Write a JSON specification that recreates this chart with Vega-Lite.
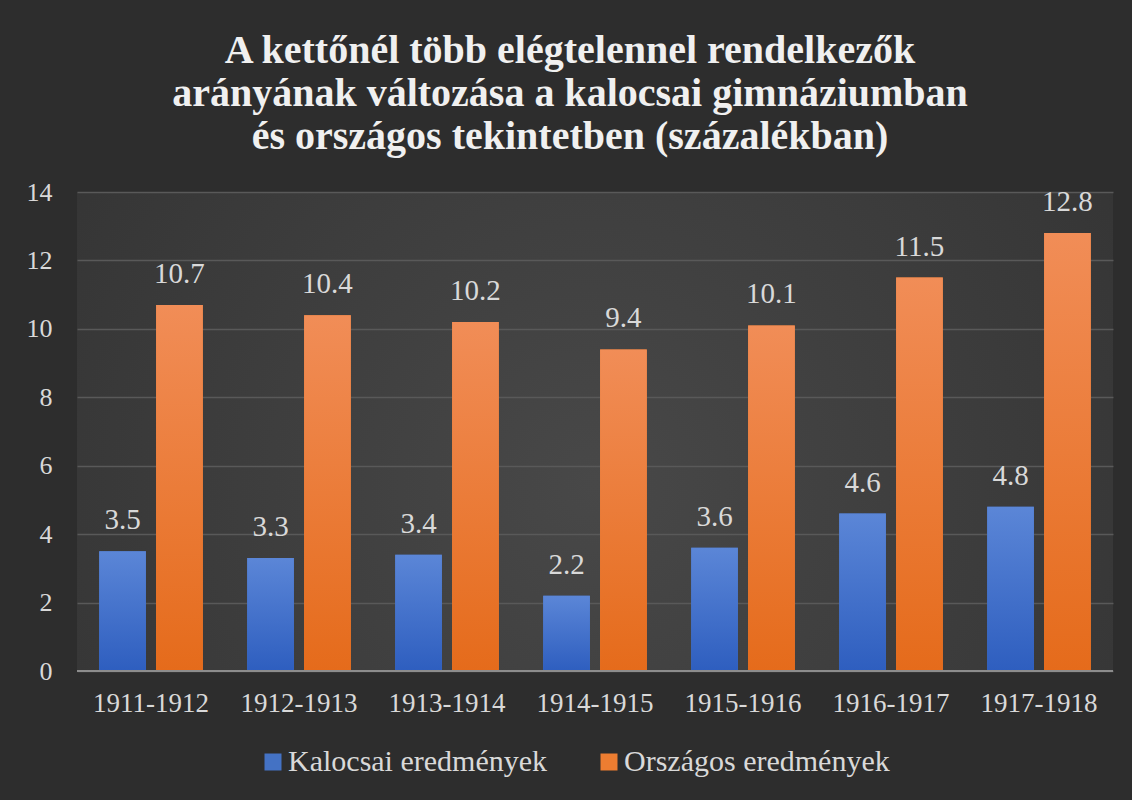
{
  "$schema": "https://vega.github.io/schema/vega-lite/v6.json",
  "width": 1036,
  "height": 479,
  "autosize": {"type": "none"},
  "padding": {"left": 77, "top": 192, "right": 19, "bottom": 129},
  "background": "#2d2d2d",
  "config": {
    "view": {
      "stroke": null,
      "fill": {
        "gradient": "radial",
        "x1": 0.5, "y1": 0.55, "r1": 0,
        "x2": 0.5, "y2": 0.55, "r2": 0.75,
        "stops": [
          {"offset": 0, "color": "#484848"},
          {"offset": 1, "color": "#303030"}
        ]
      }
    },
    "font": "Liberation Serif, Times New Roman, serif"
  },
  "title": {
    "text": [
      "A kettőnél több elégtelennel rendelkezők",
      "arányának változása a kalocsai gimnáziumban",
      "és országos tekintetben (százalékban)"
    ],
    "anchor": "middle",
    "frame": "bounds",
    "font": "Liberation Serif, Times New Roman, serif",
    "fontSize": 40,
    "fontWeight": "bold",
    "color": "#f0f0f0",
    "lineHeight": 43,
    "offset": 22
  },
  "data": {
    "values": [
      {"year": "1911-1912", "series": "Kalocsai eredmények", "value": 3.5},
      {"year": "1911-1912", "series": "Országos eredmények", "value": 10.7},
      {"year": "1912-1913", "series": "Kalocsai eredmények", "value": 3.3},
      {"year": "1912-1913", "series": "Országos eredmények", "value": 10.4},
      {"year": "1913-1914", "series": "Kalocsai eredmények", "value": 3.4},
      {"year": "1913-1914", "series": "Országos eredmények", "value": 10.2},
      {"year": "1914-1915", "series": "Kalocsai eredmények", "value": 2.2},
      {"year": "1914-1915", "series": "Országos eredmények", "value": 9.4},
      {"year": "1915-1916", "series": "Kalocsai eredmények", "value": 3.6},
      {"year": "1915-1916", "series": "Országos eredmények", "value": 10.1},
      {"year": "1916-1917", "series": "Kalocsai eredmények", "value": 4.6},
      {"year": "1916-1917", "series": "Országos eredmények", "value": 11.5},
      {"year": "1917-1918", "series": "Kalocsai eredmények", "value": 4.8},
      {"year": "1917-1918", "series": "Országos eredmények", "value": 12.8}
    ]
  },
  "encoding": {
    "x": {
      "field": "year",
      "type": "nominal",
      "sort": null,
      "scale": {"paddingInner": 0.3, "paddingOuter": 0.15},
      "axis": {
        "title": null,
        "labelAngle": 0,
        "labelFont": "Liberation Serif, Times New Roman, serif",
        "labelFontSize": 27,
        "labelColor": "#d9d9d9",
        "labelPadding": 19,
        "ticks": false,
        "domain": false,
        "grid": false
      }
    },
    "xOffset": {
      "field": "series",
      "type": "nominal",
      "scale": {"domain": ["Kalocsai eredmények", "Országos eredmények"], "paddingInner": 0.18}
    },
    "y": {
      "field": "value",
      "type": "quantitative",
      "scale": {"domain": [0, 14], "nice": false},
      "axis": {
        "title": null,
        "values": [0, 2, 4, 6, 8, 10, 12, 14],
        "labelFont": "Liberation Serif, Times New Roman, serif",
        "labelFontSize": 26,
        "labelColor": "#d9d9d9",
        "labelPadding": 25,
        "ticks": false,
        "domain": false,
        "gridColor": "#595959",
        "gridWidth": 1.5
      }
    }
  },
  "layer": [
    {
      "mark": {"type": "bar"},
      "encoding": {
        "color": {
          "field": "series",
          "type": "nominal",
          "scale": {
            "domain": ["Kalocsai eredmények", "Országos eredmények"],
            "range": ["#4472c4", "#ed7d31"]
          },
          "legend": {
            "title": null,
            "orient": "none",
            "direction": "horizontal",
            "legendX": 181,
            "legendY": 555,
            "padding": 0,
            "symbolType": "square",
            "symbolSize": 289,
            "symbolStrokeWidth": 0,
            "labelFontSize": 30,
            "labelColor": "#d9d9d9",
            "labelFont": "Liberation Serif, Times New Roman, serif",
            "labelOffset": 0,
            "columnPadding": 46,
            "labelLimit": 400
          }
        }
      }
    },
    {
      "transform": [{"filter": "datum.series === 'Kalocsai eredmények'"}],
      "mark": {
        "type": "bar",
        "fill": {
          "gradient": "linear", "x1": 0, "y1": 0, "x2": 0, "y2": 1,
          "stops": [
            {"offset": 0, "color": "#5b86d7"},
            {"offset": 1, "color": "#2e5ebf"}
          ]
        }
      }
    },
    {
      "transform": [{"filter": "datum.series === 'Országos eredmények'"}],
      "mark": {
        "type": "bar",
        "fill": {
          "gradient": "linear", "x1": 0, "y1": 0, "x2": 0, "y2": 1,
          "stops": [
            {"offset": 0, "color": "#f18d57"},
            {"offset": 1, "color": "#e56b1b"}
          ]
        }
      }
    },
    {
      "mark": {
        "type": "text",
        "baseline": "bottom",
        "dy": -16,
        "fontSize": 29,
        "color": "#d9d9d9",
        "font": "Liberation Serif, Times New Roman, serif"
      },
      "encoding": {
        "text": {"field": "value", "type": "quantitative", "format": ".1f"}
      }
    },
    {
      "mark": {"type": "rule", "color": "#8c8c8c", "strokeWidth": 2},
      "encoding": {"y": {"datum": 0}, "x": null, "xOffset": null}
    }
  ]
}
